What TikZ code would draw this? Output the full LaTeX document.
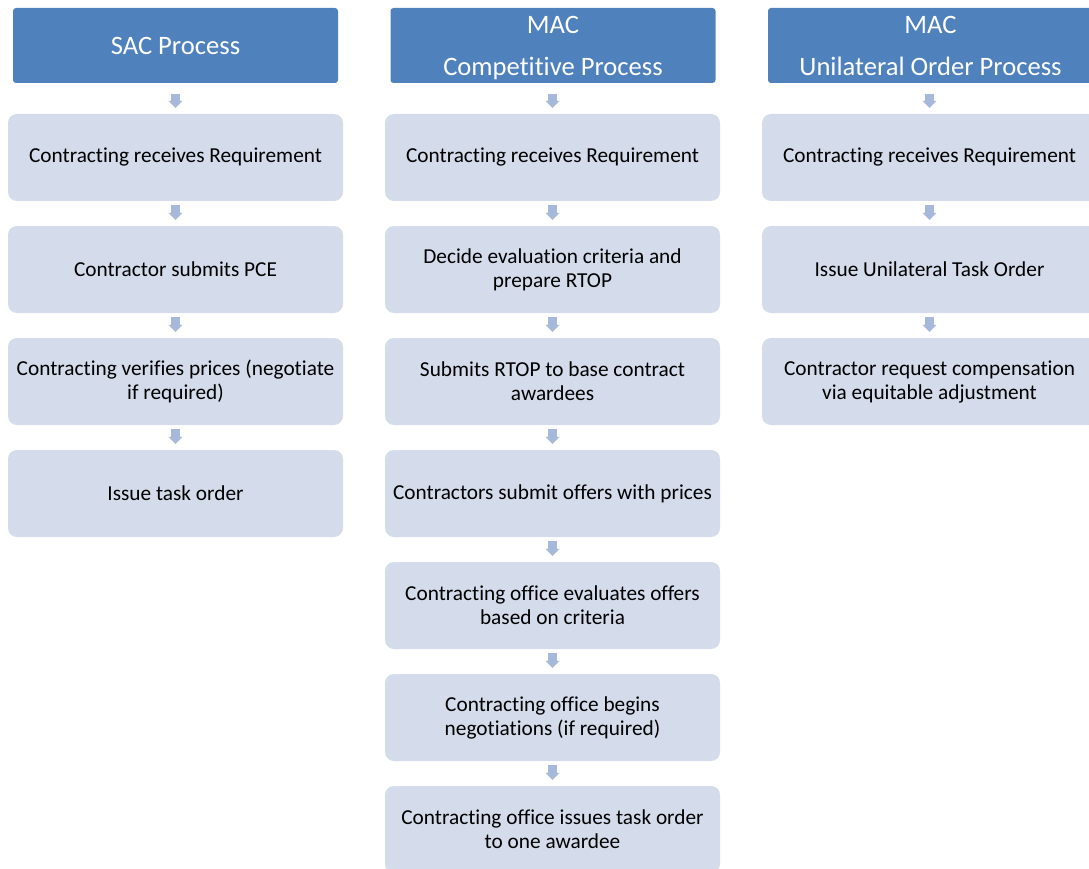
\documentclass[tikz,border=0pt]{standalone}
\usepackage{fontspec}
\setmainfont[Ligatures={NoCommon}]{Carlito}
\usetikzlibrary{arrows.meta,positioning}

\definecolor{headblue}{HTML}{4F81BD}
\definecolor{stepfill}{HTML}{D4DBEA}
\definecolor{arrowblue}{HTML}{A6B9DB}

\tikzset{
  header/.style={fill=headblue, draw=none, rounded corners=3pt,
    minimum width=325pt, minimum height=75pt, inner sep=0pt,
    text depth=0pt,
    text=white, align=center, font=\fontsize{26.6}{42}\selectfont},
  stepbox/.style={fill=stepfill, draw=none, rounded corners=9pt,
    minimum width=335pt, minimum height=87pt, inner sep=0pt,
    text=black, align=center, font=\fontsize{21.3}{24}\selectfont},
  flow/.style={draw=arrowblue, line width=9pt,
    -{Triangle[width=14pt,length=7pt,line width=0pt]}},
  fromhead/.style={flow, shorten <=11pt, shorten >=6pt},
  fromstep/.style={flow, shorten <=4pt, shorten >=6pt},
}

\begin{document}
\begin{tikzpicture}[x=1pt,y=-1pt]
\useasboundingbox (0,0) rectangle (1089,869);
\clip (0,0) rectangle (1089,869);
\fill[white] (0,0) rectangle (1089,869);

% SAC column
\node[header]  (h1) at (175.5,45.5) {SAC Process};
\node[stepbox] (a1) at (175.5,157.5) {Contracting receives Requirement};
\node[stepbox] (a2) at (175.5,269.5) {Contractor submits PCE};
\node[stepbox] (a3) at (175.5,381.5) {Contracting verifies prices (negotiate\\if required)};
\node[stepbox] (a4) at (175.5,493.5) {Issue task order};

% MAC competitive column
\node[header]  (h2) at (553,45.5) {MAC\\Competitive Process};
\node[stepbox] (b1) at (552.5,157.5) {Contracting receives Requirement};
\node[stepbox] (b2) at (552.5,269.5) {Decide evaluation criteria and\\prepare RTOP};
\node[stepbox] (b3) at (552.5,381.5) {Submits RTOP to base contract\\awardees};
\node[stepbox] (b4) at (552.5,493.5) {Contractors submit offers with prices};
\node[stepbox] (b5) at (552.5,605.5) {Contracting office evaluates offers\\based on criteria};
\node[stepbox] (b6) at (552.5,717.5) {Contracting office begins\\negotiations (if required)};
\node[stepbox] (b7) at (552.5,829.5) {Contracting office issues task order\\to one awardee};

% MAC unilateral column
\node[header]  (h3) at (930.5,45.5) {MAC\\Unilateral Order Process};
\node[stepbox] (c1) at (929.5,157.5) {Contracting receives Requirement};
\node[stepbox] (c2) at (929.5,269.5) {Issue Unilateral Task Order};
\node[stepbox] (c3) at (929.5,381.5) {Contractor request compensation\\via equitable adjustment};

% connectors
\draw[fromhead] (h1.south) -- (a1.north);
\draw[fromstep] (a1.south) -- (a2.north);
\draw[fromstep] (a2.south) -- (a3.north);
\draw[fromstep] (a3.south) -- (a4.north);

\draw[fromhead] (b1.north |- h2.south) -- (b1.north);
\draw[fromstep] (b1.south) -- (b2.north);
\draw[fromstep] (b2.south) -- (b3.north);
\draw[fromstep] (b3.south) -- (b4.north);
\draw[fromstep] (b4.south) -- (b5.north);
\draw[fromstep] (b5.south) -- (b6.north);
\draw[fromstep] (b6.south) -- (b7.north);

\draw[fromhead] (c1.north |- h3.south) -- (c1.north);
\draw[fromstep] (c1.south) -- (c2.north);
\draw[fromstep] (c2.south) -- (c3.north);
\end{tikzpicture}
\end{document}
